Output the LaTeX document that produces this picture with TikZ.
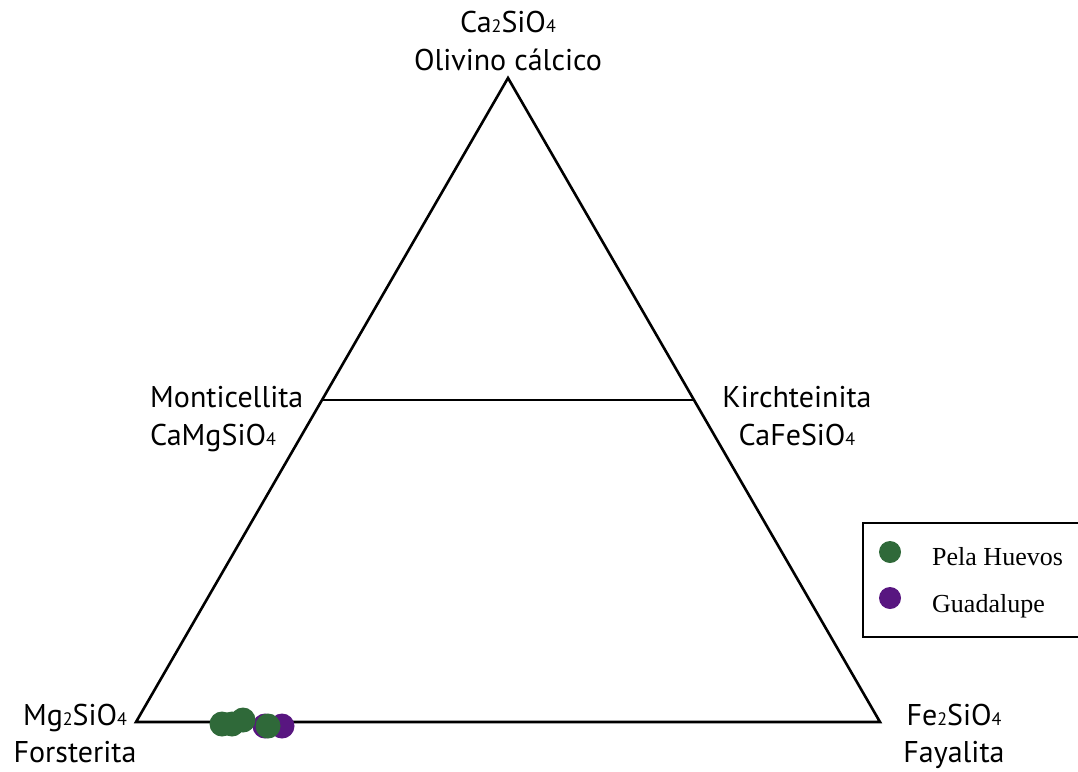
\documentclass[tikz,border=0pt]{standalone}
\usepackage{fontspec}
\setmainfont{PT Sans}
\newfontfamily\legfont{Liberation Serif}
\usetikzlibrary{positioning,calc}
\definecolor{phgreen}{RGB}{47,105,57}
\definecolor{gdpurple}{RGB}{88,22,128}
\newcommand{\sbs}[1]{{\fontsize{18}{18}\selectfont #1}}

\begin{document}
\begin{tikzpicture}[x=1pt, y=-1pt,
  font=\fontsize{30}{35}\selectfont, node distance=4pt,
  lbl/.style={inner sep=0pt, align=center},
  side/.style={line width=2.6pt, line join=miter},
  pt/.style={circle, inner sep=0pt, minimum size=25pt},
  legpt/.style={circle, inner sep=0pt, minimum size=22pt},
  leg/.style={font=\legfont\fontsize{26}{30}\selectfont, inner sep=0pt,
              anchor=base west}
]
\useasboundingbox (0,0) rectangle (1078,771);
% end members of the triangle
\coordinate (ca) at (508,78);
\coordinate (mg) at (136,722);
\coordinate (fe) at (880,722);
\coordinate (mo) at ($(mg)!0.5!(ca)$);
\coordinate (ki) at ($(fe)!0.5!(ca)$);
\draw[side] (ca) -- (mg) -- (fe) -- cycle;
\draw[side] (mo) -- (ki);
% labels
\node[lbl, anchor=base] (ca1) at (508,32) {Ca\sbs{2}SiO\sbs{4}};
\node[lbl, anchor=base] (ca2) at (508,70) {Olivino cálcico};
\node[lbl, anchor=base west] (mo1) at (150,407) {Monticellita};
\node[lbl, anchor=base west] (mo2) at (150,445) {CaMgSiO\sbs{4}};
\node[lbl, anchor=base] (ki1) at (797,407) {Kirchteinita};
\node[lbl, anchor=base] (ki2) at (797,445) {CaFeSiO\sbs{4}};
\node[lbl, anchor=base] (mg1) at (75,725) {Mg\sbs{2}SiO\sbs{4}};
\node[lbl, anchor=base] (mg2) at (75,762) {Forsterita};
\node[lbl, anchor=base] (fe1) at (954,725) {Fe\sbs{2}SiO\sbs{4}};
\node[lbl, anchor=base] (fe2) at (954,762) {Fayalita};
% analyses
\node[pt, fill=gdpurple] (g1) at (265,726) {};
\node[pt, fill=gdpurple] (g2) at (282,726) {};
\node[pt, fill=phgreen] (h1) at (222,724) {};
\node[pt, fill=phgreen] (h2) at (232,724) {};
\node[pt, fill=phgreen] (h3) at (243,720) {};
\node[pt, fill=phgreen] (h4) at (268,726) {};
% legend
\coordinate (lgtr) at (1078,523);
\coordinate (lgbr) at (1078,637);
\draw[line width=2.6pt] (lgtr) -| (863,637) -- (lgbr);
\node[legpt, fill=phgreen] (lg1) at (890,552) {};
\node[legpt, fill=gdpurple] (lg2) at (890,598) {};
\node[leg] (lt1) at (932,565) {Pela Huevos};
\node[leg] (lt2) at (932,612) {Guadalupe};
\end{tikzpicture}
\end{document}
